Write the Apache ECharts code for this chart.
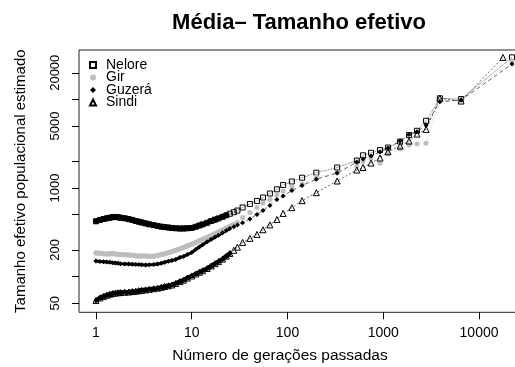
<!DOCTYPE html>
<html>
<head>
<meta charset="utf-8">
<script src="https://cdn.jsdelivr.net/npm/echarts@6/dist/echarts.min.js"></script>
<style>
  html, body { margin: 0; padding: 0; background: #fff; }
  #grafico { width: 515px; height: 367px; }
</style>
</head>
<body>
<div id="grafico"></div>
<script>
// gerações passadas (eixo x, escala log)
const geracoes = [1, 1.1, 1.2, 1.3, 1.4, 1.5, 1.6, 1.7, 1.8, 2, 2.2, 2.4, 2.6, 2.8, 3, 3.3, 3.6, 4, 4.4, 4.8,
  5.2, 5.7, 6.2, 6.8, 7.5, 8.2, 9, 10, 11, 12, 13, 14.5, 16, 17.5, 19, 21, 23, 25, 27.5, 30,
  34, 40.5, 48, 55.5, 65.5, 77.5, 90, 111, 142, 200, 330,
  530, 615, 745, 925, 1120, 1500, 1860, 2250, 2800, 3900, 6500, 17800, 22100];

// tamanho efetivo estimado por raça
const nelore = [421, 436, 447, 455, 462, 469, 471, 467, 462, 455, 445, 436, 424, 416, 408, 398, 389, 381, 373, 366,
  362, 358, 354, 351, 349, 349, 351, 354, 365, 377, 388, 405, 424, 439, 453, 473, 492, 512, 533, 556,
  603, 660, 714, 781, 867, 967, 1081, 1184, 1307, 1488, 1702,
  2042, 2337, 2500, 2682, 2862, 3346, 3958, 4425, 5735, 10290, 10100, null, 29840];
const gir = [185, 183, 181, 180, 181, 182, 180, 178, 177, 176, 175, 174, 172, 171, 171, 171, 170, 170, 173, 177,
  180, 186, 191, 198, 205, 213, 222, 232, 243, 254, 264, 277, 291, 305, 318, 335, 351, 368, 388, 408,
  465, 529, 603, 678, 742, 834, 925, 1026, 1110, 1331, 1477,
  1770, 1990, 2180, 1899, 2418, 2754, 3054, 3136, 3192, 9593, 10000, null, 27100];
const guzera = [150, 148, 147, 146, 145, 143, 142, 141, 140, 139, 139, 138, 137, 136.5, 136, 135.5, 136, 137, 139, 141,
  145, 149, 152, 156, 164, 169, 177, 187, 202, 215, 228, 247, 263, 279, 293, 313, 332, 348, 366, 382,
  405, 447, 503, 557, 635, 742, 812, 937, 1067, 1254, 1477,
  1964, 2124, 2294, 2546, 2826, 3388, 4029, 4310, 5132, 9420, 9845, null, 25080];
const sindi = [53.6, 57.4, 59.8, 61.7, 63.3, 64.5, 65.2, 65.7, 66, 66.5, 67, 67.7, 68.4, 69.2, 69.9, 70.8, 71.8, 72.9, 74, 75.6,
  77.3, 78.7, 80.4, 83.6, 87.8, 91.1, 96.2, 101.6, 107, 111.8, 116.5, 123.4, 131.7, 139.8, 147.3, 157.5, 170.2, 182.6, 198, 215,
  243, 269.6, 299, 338, 383, 441, 516, 600, 719, 885, 1199,
  1595, 1702, 1914, 2180, 2566, 2976, 3388, 4062, 4587, 10290, 9590, 29840, null];

const ticksX = [1, 10, 100, 1000, 10000];
const ticksY = [50, 100, 200, 500, 1000, 2000, 5000, 10000, 20000];
const rotulosY = [50, 200, 1000, 5000, 20000];

const fonte = 'Liberation Sans, Arial, Helvetica, sans-serif';

function pares(ys) {
  return geracoes.map(function (g, i) { return [g, ys[i]]; });
}

function serie(nome, ys, simbolo, tam, cor, preenche, tracejado) {
  return {
    name: nome,
    type: 'line',
    z: 3,
    data: pares(ys),
    symbol: simbolo,
    symbolSize: tam,
    showSymbol: true,
    showAllSymbol: true,
    connectNulls: true,
    itemStyle: {
      color: preenche ? cor : 'rgba(0,0,0,0)',
      borderColor: cor,
      borderWidth: preenche ? 0 : 1
    },
    lineStyle: { color: cor, width: 0.8, opacity: 0.75, type: tracejado },
    emphasis: { disabled: true }
  };
}

// trecho denso (pontos sobrepostos formam uma faixa contínua)
function faixa(nome, ys, n, cor, largura) {
  return {
    name: nome + ' (faixa)',
    type: 'line',
    z: 2,
    silent: true,
    data: pares(ys).slice(0, n),
    showSymbol: false,
    lineStyle: { color: cor, width: largura, cap: 'round', join: 'round' },
    emphasis: { disabled: true }
  };
}

const chart = echarts.init(document.getElementById('grafico'));

chart.setOption({
  animation: false,
  backgroundColor: '#fff',
  title: {
    text: 'Média– Tamanho efetivo',
    left: 294,
    top: 7,
    textAlign: 'center',
    textStyle: { fontFamily: fonte, fontSize: 22, fontWeight: 'bold', color: '#000' }
  },
  legend: {
    orient: 'vertical',
    left: 84,
    top: 53,
    itemWidth: 6,
    itemHeight: 6,
    itemGap: -1.5,
    textStyle: { fontFamily: fonte, fontSize: 14, color: '#000', lineHeight: 12.5, padding: [0, 0, 0, 5] },
    data: [
      { name: 'Nelore', icon: 'rect' },
      { name: 'Gir', icon: 'circle' },
      { name: 'Guzerá', icon: 'diamond' },
      { name: 'Sindi', icon: 'triangle' }
    ]
  },
  grid: {
    left: 79,
    top: 50,
    right: -1,
    bottom: 54.7,
    show: true,
    borderColor: '#222',
    borderWidth: 1,
    outerBoundsMode: 'none'
  },
  xAxis: {
    type: 'log',
    logBase: 10,
    min: 0.665,
    max: 24330,
    name: 'Número de gerações passadas',
    nameLocation: 'middle',
    nameGap: 35,
    nameTextStyle: { fontFamily: fonte, fontSize: 15.5, color: '#000', padding: [0, 35, 0, 0] },
    axisLine: { show: false },
    axisTick: { show: true, length: 7, lineStyle: { color: '#000' }, customValues: ticksX },
    axisLabel: {
      customValues: ticksX,
      fontFamily: fonte, fontSize: 14, color: '#000', margin: 14,
      formatter: function (v) { return String(Math.round(v)); }
    },
    splitLine: { show: false }
  },
  yAxis: {
    type: 'log',
    logBase: 10,
    min: 39.5,
    max: 36140,
    name: 'Tamanho efetivo populacional estimado',
    nameLocation: 'middle',
    nameRotate: 90,
    nameGap: 51,
    nameTextStyle: { fontFamily: fonte, fontSize: 15, color: '#000' },
    axisLine: { show: false },
    axisTick: { show: true, length: 7, lineStyle: { color: '#000' }, customValues: ticksY },
    axisLabel: {
      customValues: rotulosY,
      rotate: 90,
      fontFamily: fonte, fontSize: 13, color: '#000', margin: 17,
      formatter: function (v) { return String(Math.round(v)); }
    },
    splitLine: { show: false }
  },
  series: [
    faixa('Nelore', nelore, 37, '#000', 5.5),
    faixa('Gir', gir, 39, '#bdbdbd', 5),
    faixa('Guzerá', guzera, 38, '#000', 3),
    faixa('Sindi', sindi, 38, '#000', 4.5),
    serie('Nelore', nelore, 'rect', 5, '#000', false, 'dotted'),
    serie('Gir', gir, 'circle', 5, '#bdbdbd', true, 'dotted'),
    serie('Guzerá', guzera, 'diamond', 5, '#000', true, [4, 3]),
    serie('Sindi', sindi, 'triangle', 6, '#000', false, [2, 2])
  ]
});
</script>
</body>
</html>
